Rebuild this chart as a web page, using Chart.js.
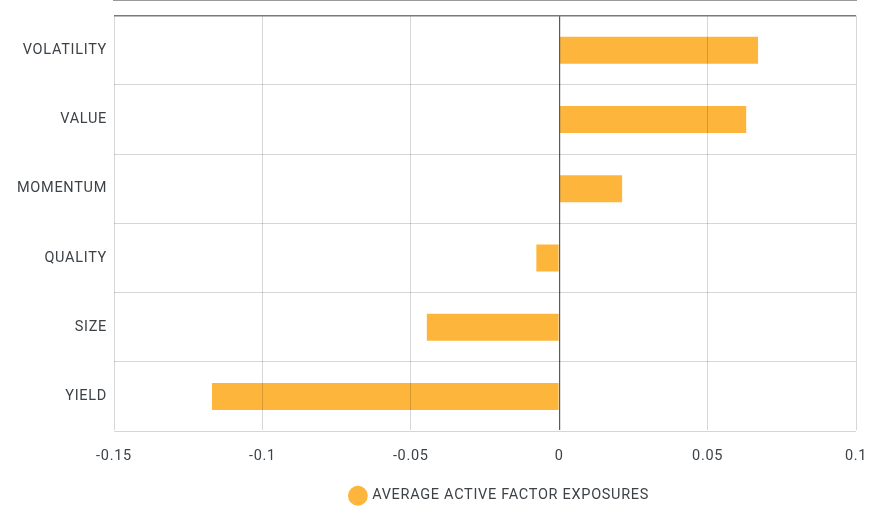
<!DOCTYPE html>
<html>
<head>
<meta charset="utf-8">
<script src="https://cdn.jsdelivr.net/npm/chart.js@4"></script>
<style>
  html, body { margin: 0; padding: 0; background: #fff; }
  #wrap { width: 870px; height: 520px; }
</style>
</head>
<body>
<div id="wrap"><canvas id="factorChart"></canvas></div>
<script>
const factors   = ['VOLATILITY', 'VALUE', 'MOMENTUM', 'QUALITY', 'SIZE', 'YIELD'];
const exposures = [0.067, 0.063, 0.0212, -0.0077, -0.0446, -0.117];
const xTicks    = [-0.15, -0.1, -0.05, 0, 0.05, 0.1];

const barColor  = '#FDB63B';
const textColor = '#3d4247';

// DIN-style wide lettering + nudge legend a bit right like the original
const tweaks = {
  id: 'tweaks',
  beforeLayout: c => { c.ctx.letterSpacing = '0.7px'; },
  afterLayout: c => {
    if (c.legend) { c.legend.left += 15; c.legend.right += 15; }
  },
  beforeDraw: c => { c.ctx.letterSpacing = '0.7px'; }
};

const ctx = document.getElementById('factorChart').getContext('2d');

new Chart(ctx, {
  type: 'bar',
  data: {
    labels: factors,
    datasets: [{
      label: 'AVERAGE ACTIVE FACTOR EXPOSURES',
      data: exposures,
      backgroundColor: barColor,
      borderWidth: 0,
      barPercentage: 0.39,
      categoryPercentage: 1
    }]
  },
  plugins: [tweaks],
  options: {
    indexAxis: 'y',
    responsive: true,
    maintainAspectRatio: false,
    animation: false,
    layout: { padding: { top: 14, right: 14, left: 0, bottom: 7 } },
    scales: {
      x: {
        min: xTicks[0],
        max: xTicks[xTicks.length - 1],
        afterBuildTicks: s => { s.ticks = xTicks.map(v => ({ value: v })); },
        afterFit: s => { s.paddingLeft = 0; s.paddingRight = 0; },
        ticks: {
          color: textColor,
          font: { family: 'Roboto', size: 14.5 },
          padding: 17,
          callback: v => String(Number(v.toFixed(2)))
        },
        grid: {
          z: 1,
          drawTicks: false,
          color: c => (c.tick && c.tick.value === 0) ? '#5a5a5a' : 'rgba(0,0,0,0.16)',
          lineWidth: c => (c.tick && c.tick.value === 0) ? 1.2 : 1
        },
        border: { display: true, color: '#9a9a9a', width: 2 }
      },
      y: {
        afterFit: s => { s.width = 114; },
        ticks: {
          color: textColor,
          font: { family: 'Roboto', size: 14.5 },
          padding: 7
        },
        grid: {
          z: 1,
          drawTicks: false,
          color: c => c.index === 0 ? '#7a7a7a' : 'rgba(0,0,0,0.16)',
          lineWidth: c => c.index === 0 ? 1.5 : 1
        },
        border: { display: false }
      }
    },
    plugins: {
      tooltip: { enabled: false },
      legend: {
        position: 'bottom',
        fullSize: false,
        labels: {
          color: textColor,
          font: { family: 'Roboto', size: 14.5 },
          usePointStyle: true,
          pointStyle: 'circle',
          boxWidth: 14,
          boxHeight: 14,
          padding: 6
        }
      }
    }
  }
});
</script>
</body>
</html>
